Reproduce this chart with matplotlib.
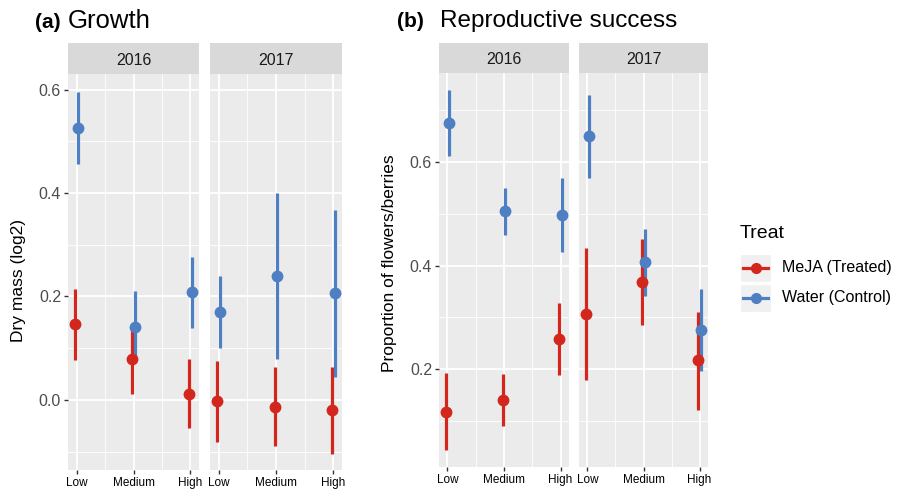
import matplotlib
matplotlib.use("Agg")
import matplotlib.pyplot as plt
import numpy as np
from matplotlib.patches import Rectangle
from matplotlib.lines import Line2D

plt.rcParams["font.family"] = ["Liberation Sans", "DejaVu Sans"]

# ---- data (rows = year 2016, 2017; cols = Low, Medium, High) ----
years = ["2016", "2017"]
levels = ["Low", "Medium", "High"]
treat_labels = ["MeJA (Treated)", "Water (Control)"]

growth_meja = [[0.146, 0.079, 0.012], [-0.003, -0.014, -0.020]]
growth_meja_lo = [[0.077, 0.011, -0.055], [-0.081, -0.090, -0.104]]
growth_meja_hi = [[0.214, 0.146, 0.080], [0.075, 0.063, 0.063]]
growth_water = [[0.525, 0.141, 0.208], [0.170, 0.239, 0.206]]
growth_water_lo = [[0.456, 0.080, 0.139], [0.100, 0.080, 0.045]]
growth_water_hi = [[0.595, 0.211, 0.277], [0.240, 0.399, 0.368]]

repro_meja = [[0.117, 0.140, 0.258], [0.306, 0.369, 0.217]]
repro_meja_lo = [[0.043, 0.090, 0.188], [0.180, 0.285, 0.122]]
repro_meja_hi = [[0.192, 0.190, 0.327], [0.434, 0.451, 0.311]]
repro_water = [[0.675, 0.505, 0.498], [0.650, 0.406, 0.275]]
repro_water_lo = [[0.612, 0.459, 0.427], [0.569, 0.342, 0.197]]
repro_water_hi = [[0.740, 0.550, 0.569], [0.729, 0.471, 0.354]]

RED = "#D3261D"
BLUE = "#4F7FC3"
PANEL_BG = "#EBEBEB"
STRIP_BG = "#D9D9D9"

W, H = 897, 490
fig = plt.figure(figsize=(W / 100, H / 100), dpi=100)


def px_axes(x0, y0, x1, y1):
    """axes from pixel box (top-left origin)"""
    return fig.add_axes([x0 / W, 1 - y1 / H, (x1 - x0) / W, (y1 - y0) / H])


def draw_facet(ax, series, ylim, yticks, yminor, show_y):
    x = np.arange(1, len(levels) + 1)
    ax.set_facecolor(PANEL_BG)
    for s in ax.spines.values():
        s.set_visible(False)
    for mean, lo, hi, col, off in series:
        mean = np.asarray(mean)
        err = [mean - np.asarray(lo), np.asarray(hi) - mean]
        ax.errorbar(x + off, mean, yerr=err, fmt="o", color=col, ms=7.5,
                    elinewidth=2.3, capsize=0, zorder=3)
    ax.set_xlim(0.85, 3.15)
    ax.set_ylim(*ylim)
    ax.set_xticks(x)
    ax.set_xticklabels(levels, fontsize=8.5, color="black")
    ax.set_xticks([1.5, 2.5], minor=True)
    ax.set_yticks(yticks)
    ax.set_yticks(yminor, minor=True)
    ax.grid(which="major", color="white", lw=1.3)
    ax.grid(which="minor", color="white", lw=0.6)
    ax.set_axisbelow(True)
    ax.tick_params(which="minor", length=0)
    ax.tick_params(which="major", length=3, color="#333333", width=1, pad=2)
    ax.tick_params(axis="y", labelsize=11.5, labelcolor="#4D4D4D")
    if show_y:
        ax.set_yticklabels([f"{t:.1f}" for t in yticks])
    else:
        ax.tick_params(axis="y", length=0, labelleft=False)


def draw_strip(x0, x1, y0, y1, label):
    sax = px_axes(x0, y0, x1, y1)
    sax.set_facecolor(STRIP_BG)
    sax.set_xticks([])
    sax.set_yticks([])
    for s in sax.spines.values():
        s.set_visible(False)
    sax.text(0.5, 0.45, label, ha="center", va="center", fontsize=11.5,
             color="#1A1A1A", transform=sax.transAxes)


# ---- panel (a) growth ----
a_boxes = [(68, 199), (210, 342)]
for i, (x0, x1) in enumerate(a_boxes):
    ax = px_axes(x0, 74, x1, 470)
    draw_facet(ax,
               [(growth_meja[i], growth_meja_lo[i], growth_meja_hi[i], RED, -0.025),
                (growth_water[i], growth_water_lo[i], growth_water_hi[i], BLUE, 0.025)],
               (-0.1355, 0.63), [0.0, 0.2, 0.4, 0.6], [-0.1, 0.1, 0.3, 0.5],
               show_y=(i == 0))
    draw_strip(x0, x1, 43, 74, years[i])

# ---- panel (b) reproductive success ----
b_boxes = [(439, 569), (579, 708)]
for i, (x0, x1) in enumerate(b_boxes):
    ax = px_axes(x0, 73, x1, 467)
    draw_facet(ax,
               [(repro_meja[i], repro_meja_lo[i], repro_meja_hi[i], RED, -0.025),
                (repro_water[i], repro_water_lo[i], repro_water_hi[i], BLUE, 0.025)],
               (0.011, 0.772), [0.2, 0.4, 0.6], [0.1, 0.3, 0.5, 0.7],
               show_y=(i == 0))
    draw_strip(x0, x1, 43, 73, years[i])

# ---- titles and axis labels ----
fig.text(35 / W, 1 - 28 / H, "(a)", fontsize=15, fontweight="bold", va="baseline")
fig.text(68 / W, 1 - 28 / H, "Growth", fontsize=18.5, va="baseline")
fig.text(397 / W, 1 - 27 / H, "(b)", fontsize=15, fontweight="bold", va="baseline")
fig.text(440 / W, 1 - 27 / H, "Reproductive success", fontsize=17.5, va="baseline")
fig.text(19 / W, 1 - 280 / H, "Dry mass (log2)", rotation=90, fontsize=12.5,
         ha="center", va="center")
fig.text(389 / W, 1 - 263 / H, "Proportion of flowers/berries", rotation=90,
         fontsize=12.5, ha="center", va="center")

# ---- legend ----
lax = px_axes(735, 215, 897, 320)
lax.set_xlim(735, 897)
lax.set_ylim(320, 215)
lax.axis("off")
lax.text(740, 234, "Treat", fontsize=14, va="center", ha="left")
for j, (lab, col) in enumerate(zip(treat_labels, [RED, BLUE])):
    yc = 268 + j * 30
    lax.add_patch(Rectangle((740, yc - 14), 31, 28, facecolor="#F0F0F0",
                            edgecolor="white", lw=1))
    lax.add_line(Line2D([743, 768], [yc, yc], color=col, lw=2.3))
    lax.plot([755.5], [yc], "o", color=col, ms=7)
    lax.text(782, yc, lab, fontsize=11.5, va="center", ha="left")

fig.savefig("out.png", dpi=100)
